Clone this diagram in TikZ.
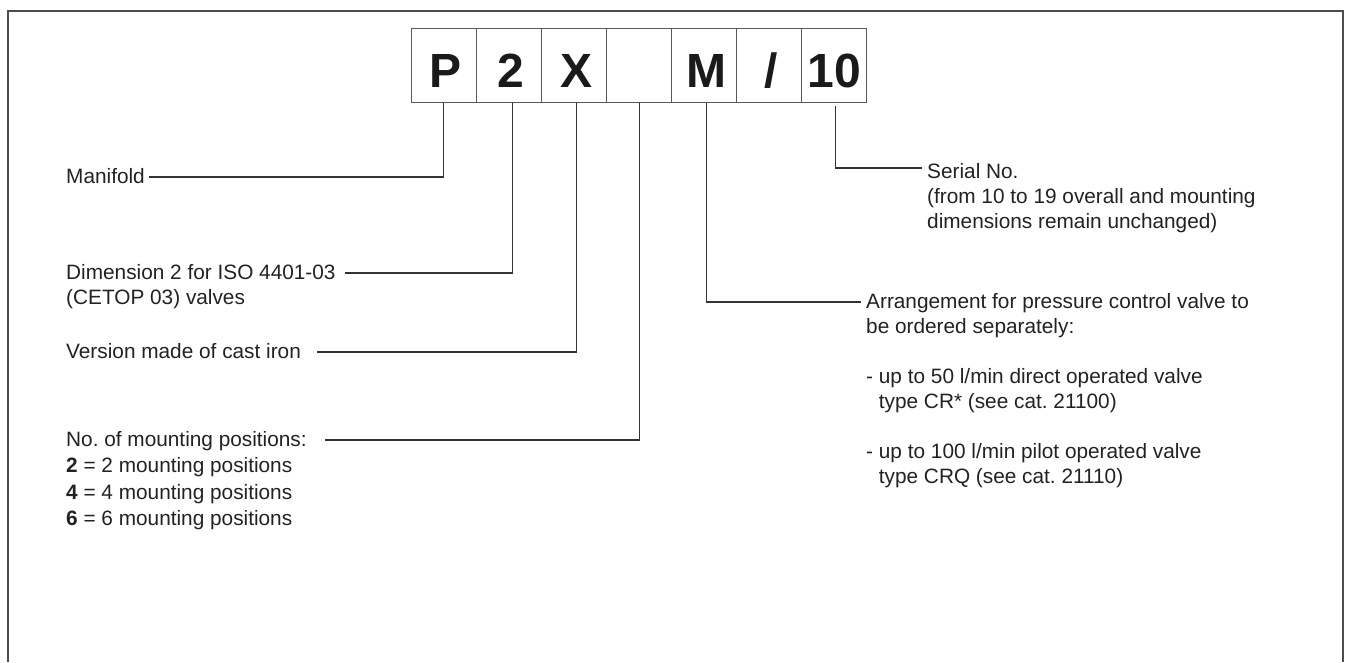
\documentclass[tikz,border=0pt]{standalone}
\usepackage{fontspec}
\setmainfont{Liberation Sans}
\frenchspacing
\newcommand\tstrut{\rule{0pt}{17pt}}
\definecolor{framec}{HTML}{4D4D4D}
\definecolor{boxc}{HTML}{5A5A5A}
\definecolor{linec}{HTML}{333333}
\definecolor{txtc}{HTML}{222222}
\definecolor{letc}{HTML}{1A1A1A}
\begin{document}
\begin{tikzpicture}[x=1pt,y=-1pt,
  frame/.style={draw=framec,line width=1.8pt},
  cell/.style={draw=boxc,line width=1.1pt,anchor=north west,minimum width=65.05pt,minimum height=74pt,inner sep=0pt,text height=44.6pt,text depth=0pt,font=\fontsize{48}{48}\selectfont\bfseries,text=letc},
  lbl/.style={anchor=north west,inner sep=0pt,align=left,font=\fontsize{20.8}{25}\selectfont\frenchspacing,text=txtc},
  lstlbl/.style={lbl,font=\fontsize{20.8}{26.5}\selectfont\frenchspacing},
  conn/.style={draw=linec,line width=1.1pt}]
\useasboundingbox (0,0) rectangle (1350,662);
% outer frame (open at the bottom)
\draw[frame] (8,662) -- (8,11) -- (1343,11) -- (1343,662);
% code boxes
\node[cell] (b1) at (410.7,28) {\hspace*{4pt}P};
\node[cell] (b2) at (475.75,28) {\hspace*{4pt}2};
\node[cell] (b3) at (540.8,28) {\hspace*{5pt}X};
\node[cell] (b4) at (605.85,28) {};
\node[cell] (b5) at (670.9,28) {\hspace*{5pt}M};
\node[cell] (b6) at (735.95,28) {\hspace*{5pt}/};
\node[cell] (b7) at (801,28) {10};
% labels
\node[lbl] (man) at (66,166) {\tstrut Manifold};
\node[lbl] (dim) at (66,262) {\tstrut Dimension 2 for ISO 4401-03\\(CETOP 03) valves};
\node[lbl] (ver) at (66,341) {\tstrut Version made of cast iron};
\node[lstlbl] (num) at (66,429) {\tstrut No. of mounting positions:\\\textbf{2} = 2 mounting positions\\\textbf{4} = 4 mounting positions\\\textbf{6} = 6 mounting positions};
\node[lbl] (ser) at (927,161) {\tstrut Serial No.\\(from 10 to 19 overall and mounting\\dimensions remain unchanged)};
\node[lbl] (arr) at (866,291) {\tstrut Arrangement for pressure control valve to\\be ordered separately:\\[25pt]- up to 50 l/min direct operated valve\\\phantom{- }type CR* (see cat. 21100)\\[25pt]- up to 100 l/min pilot operated valve\\\phantom{- }type CRQ (see cat. 21110)};
% connector ends
\coordinate (eman) at (149,177);
\coordinate (edim) at (345,273);
\coordinate (ever) at (317,352);
\coordinate (enum) at (325,440);
\coordinate (eser) at (922,168);
\coordinate (earr) at (861,302);
\coordinate (s7) at (835.7,106);
% connectors
\draw[conn] ([xshift=-0.5pt]b1.south) |- (eman);
\draw[conn] ([xshift=4pt]b2.south) |- (edim);
\draw[conn] ([xshift=3pt]b3.south) |- (ever);
\draw[conn] ([xshift=1pt]b4.south) |- (enum);
\draw[conn] ([xshift=2.5pt]b5.south) |- (earr);
\draw[conn] (s7) |- (eser);
\end{tikzpicture}
\end{document}
